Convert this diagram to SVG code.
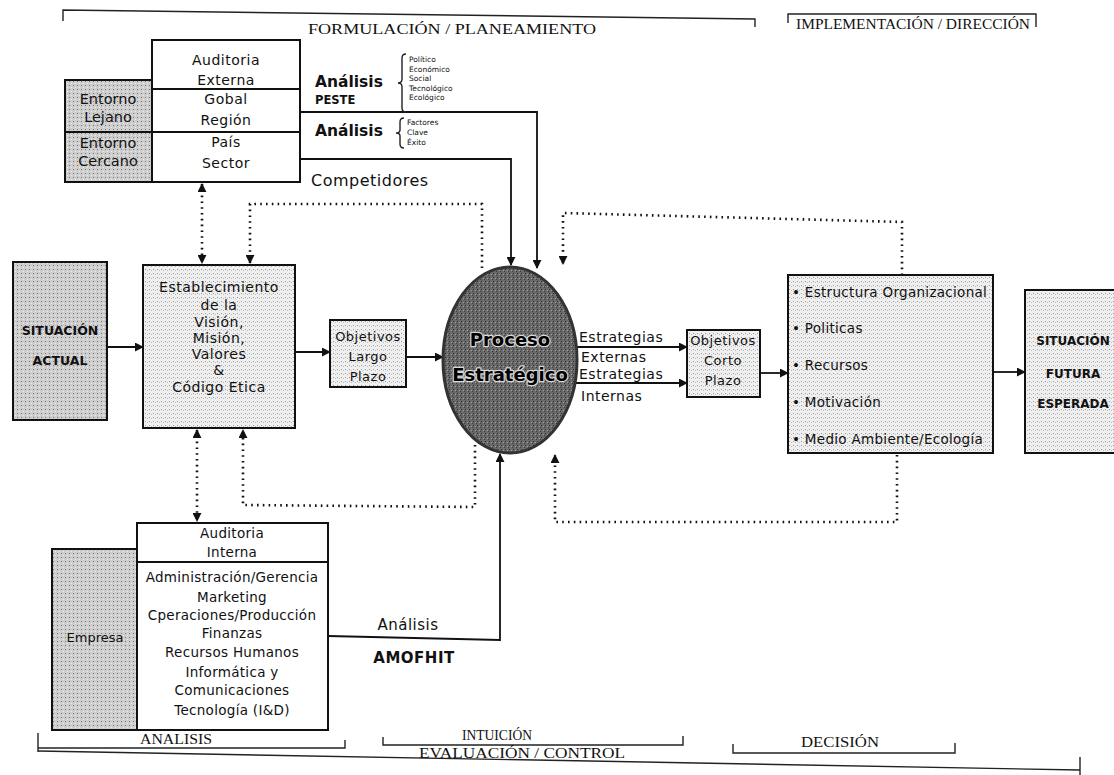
<svg xmlns="http://www.w3.org/2000/svg" width="1114" height="775" viewBox="0 0 1114 775">
<style>
.bx{stroke:#111;stroke-width:2}
.w{fill:#fff}
.ln{fill:none;stroke:#111;stroke-width:1.8}
.dt{fill:none;stroke:#111;stroke-width:2.6;stroke-dasharray:1.6 4.2}
.t{font-family:"DejaVu Sans",Verdana,sans-serif;font-size:14px;letter-spacing:0.5px;fill:#111;text-anchor:middle}
.st{text-anchor:start}
.s{font-size:7.5px;letter-spacing:0}
.b{font-weight:bold}
.h{font-family:"Liberation Serif","Times New Roman",serif;font-size:14px;fill:#111;text-anchor:middle}
.br{fill:none;stroke:#222;stroke-width:1.4}
.pe{font-size:18px;letter-spacing:0;fill:#000;stroke:#d8d8d8;stroke-width:2.4px;paint-order:stroke;stroke-linejoin:round}
</style>
<defs>
<pattern id="pl" width="4" height="4" patternUnits="userSpaceOnUse"><rect width="4" height="4" fill="#efefef"/><rect x="1" y="1" width="1" height="1" fill="#9a9a9a"/><rect x="3" y="2" width="1" height="1" fill="#bbbbbb"/></pattern>
<pattern id="pm" width="4" height="4" patternUnits="userSpaceOnUse"><rect width="4" height="4" fill="#cdcdcd"/><rect x="1" y="1" width="1" height="1" fill="#7a7a7a"/><rect x="3" y="3" width="1" height="1" fill="#eeeeee"/></pattern>
<pattern id="pd" width="4" height="4" patternUnits="userSpaceOnUse"><rect width="4" height="4" fill="#6a6a6a"/><rect x="1" y="1" width="1" height="1" fill="#2c2c2c"/><rect x="3" y="2" width="1" height="1" fill="#a0a0a0"/><rect x="0" y="3" width="1" height="1" fill="#3a3a3a"/></pattern>
<marker id="ah" viewBox="0 0 10 10" refX="9" refY="5" markerWidth="9" markerHeight="9" markerUnits="userSpaceOnUse" orient="auto-start-reverse"><path d="M0,0 L10,5 L0,10 z" fill="#111"/></marker>
</defs>
<rect width="1114" height="775" fill="#fff"/>

<!-- phase brackets -->
<g id="phase-formulacion">
<path class="br" d="M63,21 L63,10 L755,19 L755,27"/>
<text class="h" x="452" y="34" textLength="288" lengthAdjust="spacingAndGlyphs">FORMULACIÓN / PLANEAMIENTO</text>
</g>
<g id="phase-implementacion">
<path class="br" d="M788,23 L788,14 L1036,14 L1036,27"/>
<text class="h" x="913" y="29" textLength="234" lengthAdjust="spacingAndGlyphs">IMPLEMENTACIÓN / DIRECCIÓN</text>
</g>
<g id="phase-analisis">
<path class="br" d="M38,733 L38,752 M38,748 L345,748 L345,740"/>
<text class="h" x="176" y="744" textLength="72" lengthAdjust="spacingAndGlyphs">ANALISIS</text>
</g>
<g id="phase-intuicion">
<path class="br" d="M383,737 L383,745 L683,745 L683,736"/>
<text class="h" x="497" y="740" textLength="70" lengthAdjust="spacingAndGlyphs">INTUICIÓN</text>
</g>
<g id="phase-evaluacion">
<path class="br" d="M38,751 L1080,770 M1080,757 L1080,775"/>
<text class="h" x="522" y="758" textLength="206" lengthAdjust="spacingAndGlyphs">EVALUACIÓN / CONTROL</text>
</g>
<g id="phase-decision">
<path class="br" d="M733,744 L733,753 L955,753 L955,743"/>
<text class="h" x="840" y="747" textLength="78" lengthAdjust="spacingAndGlyphs">DECISIÓN</text>
</g>

<!-- connectors -->
<g id="connectors">
<path class="ln" d="M300,112 L537,112 L537,268" marker-end="url(#ah)"/>
<path class="ln" d="M300,159 L511,159 L511,265" marker-end="url(#ah)"/>
<path class="ln" d="M107,347 L143,347" marker-end="url(#ah)"/>
<path class="ln" d="M295,352 L330,352" marker-end="url(#ah)"/>
<path class="ln" d="M406,357 L443,357" marker-end="url(#ah)"/>
<path class="ln" d="M577,347 L687,347" marker-end="url(#ah)"/>
<path class="ln" d="M576,383 L687,383" marker-end="url(#ah)"/>
<path class="ln" d="M760,373 L788,373" marker-end="url(#ah)"/>
<path class="ln" d="M993,372 L1025,372" marker-end="url(#ah)"/>
<path class="ln" d="M328,636 L500,640 L500,454" marker-end="url(#ah)"/>
<path class="dt" d="M202,184 L202,263" marker-start="url(#ah)" marker-end="url(#ah)"/>
<path class="dt" d="M482,268 L482,204 L250,204 L250,263" marker-end="url(#ah)"/>
<path class="dt" d="M197,430 L197,521" marker-start="url(#ah)" marker-end="url(#ah)"/>
<path class="dt" d="M475,445 L475,507 L243,505 L243,430" marker-end="url(#ah)"/>
<path class="dt" d="M902,275 L902,222 L563,213 L563,264" marker-end="url(#ah)"/>
<path class="dt" d="M897,455 L897,522 L555,522 L555,455" marker-end="url(#ah)"/>
</g>

<!-- Auditoria externa -->
<g id="auditoria-externa">
<rect class="bx w" x="152" y="40" width="148" height="142"/>
<line class="ln" x1="152" y1="89" x2="300" y2="89"/>
<line class="ln" x1="152" y1="132" x2="300" y2="132"/>
<text class="t" x="226" y="65">Auditoria</text>
<text class="t" x="226" y="85">Externa</text>
<text class="t" x="226" y="104">Gobal</text>
<text class="t" x="226" y="125">Región</text>
<text class="t" x="226" y="147">País</text>
<text class="t" x="226" y="168">Sector</text>
</g>
<g id="entorno-lejano">
<rect class="bx" fill="url(#pm)" x="65" y="80" width="87" height="52"/>
<text class="t" x="108" y="104" style="font-size:14.5px;letter-spacing:0">Entorno</text>
<text class="t" x="108" y="122" style="font-size:14.5px;letter-spacing:0">Lejano</text>
</g>
<g id="entorno-cercano">
<rect class="bx" fill="url(#pm)" x="65" y="132" width="87" height="50"/>
<text class="t" x="108" y="148" style="font-size:14.5px;letter-spacing:0">Entorno</text>
<text class="t" x="108" y="166" style="font-size:14.5px;letter-spacing:0">Cercano</text>
</g>
<g id="analisis-peste">
<text class="t st b" x="315" y="87" style="font-size:15.5px;letter-spacing:0">Análisis</text>
<text class="t st b" x="315" y="104" style="font-size:11.5px;letter-spacing:0">PESTE</text>
<path class="br" d="M406,54 q-4,0 -4,4 v21 q0,4 -4,4 q4,0 4,4 v21 q0,4 4,4"/>
<text class="t st s" x="409" y="62">Político</text>
<text class="t st s" x="409" y="72">Económico</text>
<text class="t st s" x="409" y="81">Social</text>
<text class="t st s" x="409" y="91">Tecnológico</text>
<text class="t st s" x="409" y="100">Ecológico</text>
</g>
<g id="analisis-factores">
<text class="t st b" x="315" y="136" style="font-size:15.5px;letter-spacing:0">Análisis</text>
<path class="br" d="M404,118 q-4,0 -4,4 v8 q0,3 -4,3 q4,0 4,3 v8 q0,4 4,4"/>
<text class="t st s" x="407" y="125">Factores</text>
<text class="t st s" x="407" y="135">Clave</text>
<text class="t st s" x="407" y="145">Éxito</text>
</g>
<g id="competidores">
<text class="t st" x="311" y="186" style="font-size:16px">Competidores</text>
</g>

<!-- main row -->
<g id="situacion-actual">
<rect class="bx" fill="url(#pm)" x="13" y="262" width="94" height="158"/>
<text class="t b" x="60" y="335" style="font-size:12.5px;letter-spacing:0">SITUACIÓN</text>
<text class="t b" x="60" y="365" style="font-size:12.5px;letter-spacing:0">ACTUAL</text>
</g>
<g id="establecimiento">
<rect class="bx" fill="url(#pl)" x="143" y="265" width="152" height="163"/>
<text class="t" x="219" y="292">Establecimiento</text>
<text class="t" x="219" y="310">de la</text>
<text class="t" x="219" y="327">Visión,</text>
<text class="t" x="219" y="343">Misión,</text>
<text class="t" x="219" y="359">Valores</text>
<text class="t" x="219" y="375">&amp;</text>
<text class="t" x="219" y="392">Código Etica</text>
</g>
<g id="objetivos-largo">
<rect class="bx" fill="url(#pl)" x="330" y="320" width="76" height="67"/>
<text class="t" x="368" y="341" style="font-size:13px">Objetivos</text>
<text class="t" x="368" y="361" style="font-size:13px">Largo</text>
<text class="t" x="368" y="381" style="font-size:13px">Plazo</text>
</g>
<g id="proceso-estrategico">
<ellipse cx="510" cy="360" rx="67" ry="93" fill="url(#pd)" stroke="#333" stroke-width="3"/>
<text class="t b pe" x="510" y="346">Proceso</text>
<text class="t b pe" x="510" y="381">Estratégico</text>
</g>
<g id="estrategias-labels">
<text class="t st" x="579" y="342">Estrategias</text>
<text class="t st" x="581" y="362">Externas</text>
<text class="t st" x="579" y="379">Estrategias</text>
<text class="t st" x="581" y="401">Internas</text>
</g>
<g id="objetivos-corto">
<rect class="bx" fill="url(#pl)" x="687" y="330" width="73" height="67"/>
<text class="t" x="723" y="345" style="font-size:13px">Objetivos</text>
<text class="t" x="723" y="365" style="font-size:13px">Corto</text>
<text class="t" x="723" y="385" style="font-size:13px">Plazo</text>
</g>
<g id="implementacion">
<rect class="bx" fill="url(#pl)" x="788" y="275" width="205" height="178"/>
<text class="t st" x="792" y="297" style="font-size:13.5px;letter-spacing:0.3px">• Estructura Organizacional</text>
<text class="t st" x="792" y="333" style="font-size:13.5px;letter-spacing:0.3px">• Politicas</text>
<text class="t st" x="792" y="370" style="font-size:13.5px;letter-spacing:0.3px">• Recursos</text>
<text class="t st" x="792" y="407" style="font-size:13.5px;letter-spacing:0.3px">• Motivación</text>
<text class="t st" x="792" y="444" style="font-size:13.5px;letter-spacing:0.3px">• Medio Ambiente/Ecología</text>
</g>
<g id="situacion-futura">
<rect class="bx" fill="url(#pl)" x="1025" y="290" width="100" height="163"/>
<text class="t b" x="1073" y="345" style="font-size:12px;letter-spacing:0">SITUACIÓN</text>
<text class="t b" x="1073" y="378" style="font-size:12px;letter-spacing:0">FUTURA</text>
<text class="t b" x="1073" y="408" style="font-size:12px;letter-spacing:0">ESPERADA</text>
</g>

<!-- bottom -->
<g id="empresa">
<rect class="bx" fill="url(#pm)" x="52" y="549" width="85" height="181"/>
<text class="t" x="95" y="642" style="font-size:13px;letter-spacing:0">Empresa</text>
</g>
<g id="auditoria-interna">
<rect class="bx w" x="137" y="523" width="191" height="207"/>
<line class="ln" x1="137" y1="562" x2="328" y2="562"/>
<text class="t" x="232" y="538" style="font-size:13.5px;letter-spacing:0.3px">Auditoria</text>
<text class="t" x="232" y="557" style="font-size:13.5px;letter-spacing:0.3px">Interna</text>
<text class="t" x="232" y="582" style="font-size:13.5px;letter-spacing:0.3px">Administración/Gerencia</text>
<text class="t" x="232" y="602" style="font-size:13.5px;letter-spacing:0.3px">Marketing</text>
<text class="t" x="232" y="620" style="font-size:13.5px;letter-spacing:0.3px">Cperaciones/Producción</text>
<text class="t" x="232" y="638" style="font-size:13.5px;letter-spacing:0.3px">Finanzas</text>
<text class="t" x="232" y="657" style="font-size:13.5px;letter-spacing:0.3px">Recursos Humanos</text>
<text class="t" x="232" y="677" style="font-size:13.5px;letter-spacing:0.3px">Informática y</text>
<text class="t" x="232" y="695" style="font-size:13.5px;letter-spacing:0.3px">Comunicaciones</text>
<text class="t" x="232" y="715" style="font-size:13.5px;letter-spacing:0.3px">Tecnología (I&amp;D)</text>
</g>
<g id="analisis-amofhit">
<text class="t" x="408" y="630" style="font-size:15px">Análisis</text>
<text class="t b" x="414" y="663" style="font-size:15px">AMOFHIT</text>
</g>
</svg>
